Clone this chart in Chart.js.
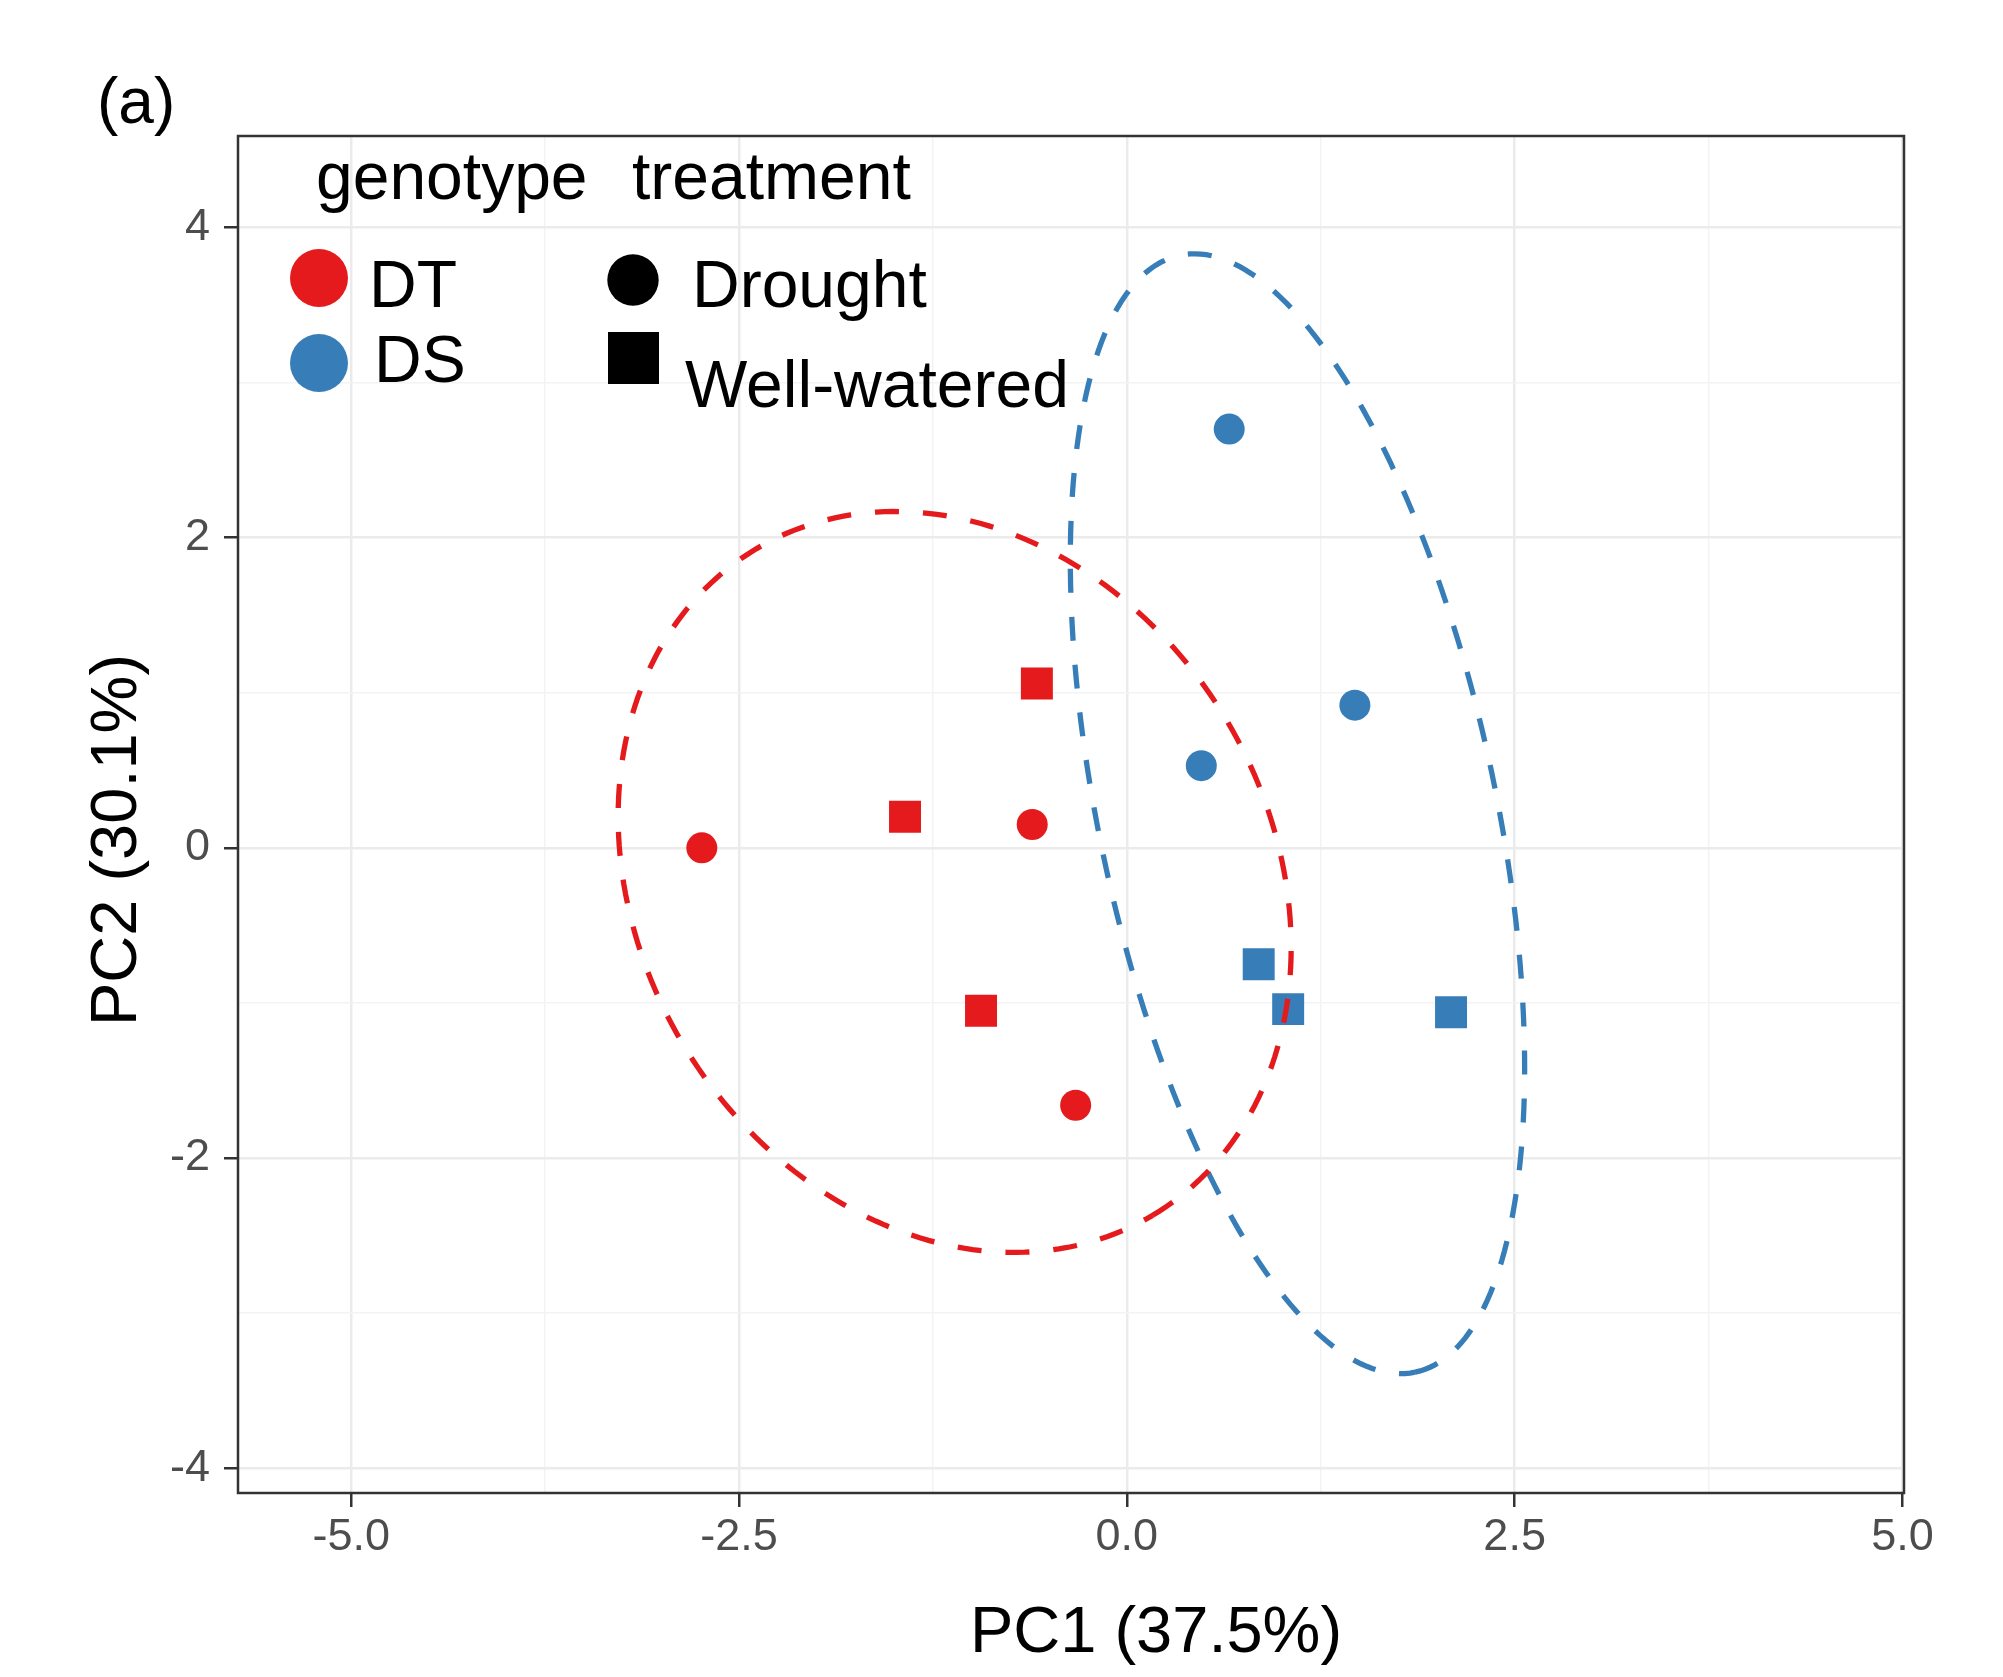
<!DOCTYPE html>
<html>
<head>
<meta charset="utf-8">
<title>PCA (a)</title>
<script src="https://cdn.jsdelivr.net/npm/chart.js@4.4.1/dist/chart.umd.min.js"></script>
<style>
  html, body { margin: 0; padding: 0; background: #ffffff; }
  canvas { display: block; }
</style>
</head>
<body>
<canvas id="pcaChart" width="2003" height="1677"></canvas>
<script>
const genotypes = ["DT", "DS"];
const treatments = ["Drought", "Well-watered"];
const genotypeColors = ["#E41A1C", "#377EB8"];

// PC scores
const dtDroughtPC1 = [-2.74, -0.61, -0.33];
const dtDroughtPC2 = [0.00, 0.15, -1.66];
const dtWateredPC1 = [-0.58, -1.43, -0.94];
const dtWateredPC2 = [1.06, 0.20, -1.05];
const dsDroughtPC1 = [0.66, 1.47, 0.48];
const dsDroughtPC2 = [2.70, 0.92, 0.53];
const dsWateredPC1 = [0.85, 1.04, 2.09];
const dsWateredPC2 = [-0.75, -1.04, -1.06];

// group ellipses (DT, DS): centre, half axes, tilt of the long axis
const ellipseCentrePC1 = [-1.11, 1.10];
const ellipseCentrePC2 = [-0.22, 0.22];
const ellipseSemiMajor = [2.50, 3.68];
const ellipseSemiMinor = [2.04, 1.28];
const ellipseTiltDeg = [-59.3, -78.1];

// axes
const xRange = [-5.73, 5.01];
const yRange = [-4.16, 4.59];
const xGridValues = [-5, -3.75, -2.5, -1.25, 0, 1.25, 2.5, 3.75, 5];
const xTickLabels = ["-5.0", "", "-2.5", "", "0.0", "", "2.5", "", "5.0"];
const yGridValues = [-4, -3, -2, -1, 0, 1, 2, 3, 4];
const yTickLabels = ["-4", "", "-2", "", "0", "", "2", "", "4"];

const FONT = "'Liberation Sans', Arial, Helvetica, sans-serif";

const toPoints = (xs, ys) => xs.map((x, i) => ({ x, y: ys[i] }));

function ellipseOutline(g) {
    const tilt = (ellipseTiltDeg[g] * Math.PI) / 180;
    const pts = [];
    for (let k = 0; k <= 240; k++) {
        const t = (k / 240) * 2 * Math.PI;
        const u = ellipseSemiMajor[g] * Math.cos(t);
        const v = ellipseSemiMinor[g] * Math.sin(t);
        pts.push({
            x: ellipseCentrePC1[g] + u * Math.cos(tilt) - v * Math.sin(tilt),
            y: ellipseCentrePC2[g] + u * Math.sin(tilt) + v * Math.cos(tilt),
        });
    }
    return pts;
}

const pointSet = (label, data, color, style) => ({
    label,
    data,
    backgroundColor: color,
    borderColor: color,
    borderWidth: 0,
    pointStyle: style,
    pointRadius: style === "rect" ? 22.6 : 15.5,
    pointHoverRadius: style === "rect" ? 22.6 : 15.5,
    order: 2,
});

const ellipseSet = (g) => ({
    label: genotypes[g] + " ellipse",
    data: ellipseOutline(g),
    showLine: true,
    fill: false,
    borderColor: genotypeColors[g],
    borderWidth: 5.3,
    borderDash: [24, 24],
    borderCapStyle: "butt",
    pointRadius: 0,
    pointHoverRadius: 0,
    tension: 0,
    order: 1,
});

// panel frame, titles and the two-part key
const decorPlugin = {
    id: "decor",
    afterDraw(chart) {
        const { ctx, chartArea: a } = chart;
        ctx.save();
        ctx.strokeStyle = "#333333";
        ctx.lineWidth = 2.5;
        ctx.strokeRect(a.left, a.top, a.right - a.left, a.bottom - a.top);

        ctx.fillStyle = "#000000";
        ctx.textBaseline = "alphabetic";

        ctx.font = `64px ${FONT}`;
        ctx.textAlign = "left";
        ctx.fillText("(a)", 97, 123);

        ctx.font = `65px ${FONT}`;
        ctx.textAlign = "center";
        ctx.fillText("PC1 (37.5%)", 1156, 1652);
        ctx.save();
        ctx.translate(136, 840);
        ctx.rotate(-Math.PI / 2);
        ctx.fillText("PC2 (30.1%)", 0, 0);
        ctx.restore();

        // key
        ctx.font = `66px ${FONT}`;
        ctx.textAlign = "left";
        ctx.fillText("genotype", 316, 199);
        ctx.fillText("treatment", 632, 199);

        ctx.fillStyle = genotypeColors[0];
        ctx.beginPath();
        ctx.arc(319, 278, 29, 0, 2 * Math.PI);
        ctx.fill();
        ctx.fillStyle = genotypeColors[1];
        ctx.beginPath();
        ctx.arc(319, 363, 29, 0, 2 * Math.PI);
        ctx.fill();

        ctx.fillStyle = "#000000";
        ctx.fillText(genotypes[0], 369, 307);
        ctx.fillText(genotypes[1], 374, 382);

        ctx.beginPath();
        ctx.arc(633, 280, 25.7, 0, 2 * Math.PI);
        ctx.fill();
        ctx.fillRect(608, 332, 51, 52);
        ctx.fillText(treatments[0], 692, 307);
        ctx.fillText(treatments[1], 685, 407);
        ctx.restore();
    },
};

const isMajor = (labels, i) => labels[i] !== "" && labels[i] !== undefined;

new Chart(document.getElementById("pcaChart").getContext("2d"), {
    type: "scatter",
    data: {
        datasets: [
            ellipseSet(0),
            ellipseSet(1),
            pointSet("DT Drought", toPoints(dtDroughtPC1, dtDroughtPC2), genotypeColors[0], "circle"),
            pointSet("DT Well-watered", toPoints(dtWateredPC1, dtWateredPC2), genotypeColors[0], "rect"),
            pointSet("DS Drought", toPoints(dsDroughtPC1, dsDroughtPC2), genotypeColors[1], "circle"),
            pointSet("DS Well-watered", toPoints(dsWateredPC1, dsWateredPC2), genotypeColors[1], "rect"),
        ],
    },
    options: {
        responsive: false,
        devicePixelRatio: 1,
        animation: false,
        layout: { padding: { top: 136, right: 99, left: 0, bottom: 0 } },
        plugins: {
            legend: { display: false },
            tooltip: { enabled: false },
            title: { display: false },
        },
        scales: {
            x: {
                type: "linear",
                min: xRange[0],
                max: xRange[1],
                afterBuildTicks: (scale) => {
                    scale.ticks = xGridValues.map((v) => ({ value: v }));
                },
                afterFit: (scale) => {
                    scale.height = 184;
                },
                ticks: {
                    autoSkip: false,
                    maxRotation: 0,
                    padding: 4,
                    color: "#4D4D4D",
                    font: { family: FONT, size: 45 },
                    callback: (value, index) => xTickLabels[index],
                },
                grid: {
                    color: (c) => (isMajor(xTickLabels, c.index) ? "#EBEBEB" : "#F3F3F3"),
                    lineWidth: (c) => (isMajor(xTickLabels, c.index) ? 2.5 : 1.5),
                    tickColor: (c) => (isMajor(xTickLabels, c.index) ? "#333333" : "rgba(0,0,0,0)"),
                    tickWidth: 2.5,
                    tickLength: 14,
                },
                border: { display: false },
            },
            y: {
                type: "linear",
                min: yRange[0],
                max: yRange[1],
                afterBuildTicks: (scale) => {
                    scale.ticks = yGridValues.map((v) => ({ value: v }));
                },
                afterFit: (scale) => {
                    scale.width = 238;
                },
                ticks: {
                    autoSkip: false,
                    padding: 14,
                    color: "#4D4D4D",
                    font: { family: FONT, size: 45 },
                    callback: (value, index) => yTickLabels[index],
                },
                grid: {
                    color: (c) => (isMajor(yTickLabels, c.index) ? "#EBEBEB" : "#F3F3F3"),
                    lineWidth: (c) => (isMajor(yTickLabels, c.index) ? 2.5 : 1.5),
                    tickColor: (c) => (isMajor(yTickLabels, c.index) ? "#333333" : "rgba(0,0,0,0)"),
                    tickWidth: 2.5,
                    tickLength: 14,
                },
                border: { display: false },
            },
        },
    },
    plugins: [decorPlugin],
});
</script>
</body>
</html>
